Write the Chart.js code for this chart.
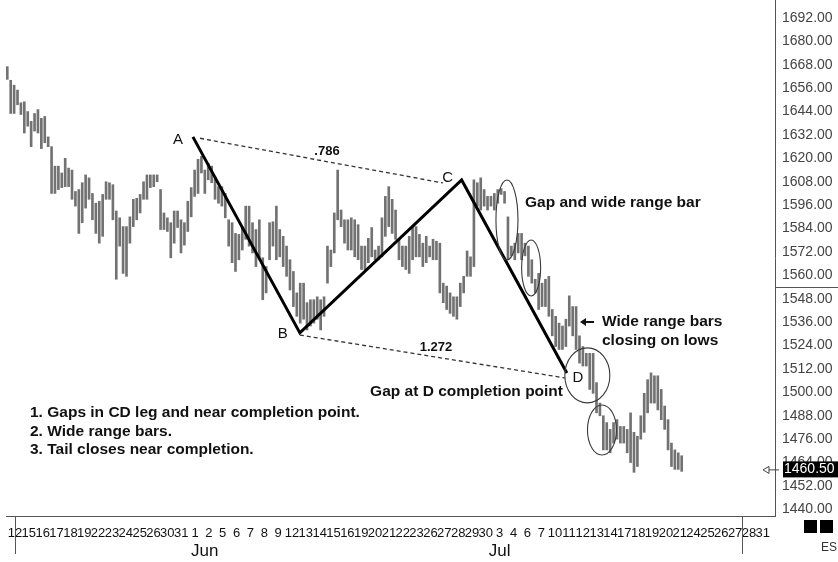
<!DOCTYPE html>
<html>
<head>
<meta charset="utf-8">
<script src="https://cdn.jsdelivr.net/npm/chart.js@4.4.0/dist/chart.umd.min.js"></script>
<style>
  html, body { margin: 0; padding: 0; background: #fff; }
  #wrap { width: 838px; height: 562px; }
</style>
</head>
<body>
<div id="wrap"><canvas id="chart" width="838" height="562"></canvas></div>
<script>
// bar highs / lows, one entry per bar
const highs = [
  1667, 1660, 1657.5, 1655, 1648.5, 1649, 1644, 1639, 1643, 1645,
  1640.5, 1641.5, 1631, 1626, 1616, 1616, 1612.5, 1620, 1615, 1614,
  1603, 1604, 1607.5, 1611.5, 1610, 1602, 1597, 1598, 1601.5, 1608,
  1607.5, 1606.5, 1593, 1589.5, 1585, 1585, 1590, 1599, 1599.5, 1601.5,
  1608, 1611.5, 1611.5, 1611.5, 1611.5, 1604, 1592, 1589.5, 1587, 1593,
  1593, 1588.5, 1587, 1598, 1605, 1614, 1619.5, 1621, 1614, 1617.5,
  1616, 1610.5, 1605.5, 1605.5, 1602, 1588.5, 1587, 1581.5, 1581, 1585,
  1595.5, 1595.5, 1587, 1583.5, 1588.5, 1569, 1564.5, 1587, 1587.5, 1595.5,
  1583.5, 1580, 1575, 1568, 1562, 1551, 1556, 1556, 1546, 1547.5,
  1547.5, 1549, 1547.5, 1549, 1575, 1573, 1592, 1614, 1593.5, 1588.5,
  1588.5, 1589.5, 1588.5, 1586, 1575, 1575, 1579, 1584.5, 1573, 1575,
  1589.5, 1600.5, 1605.5, 1599, 1593.5, 1578.5, 1575, 1575, 1580, 1585,
  1585, 1581, 1576.5, 1580, 1575, 1578.5, 1577.5, 1576.5, 1556, 1554.5,
  1551, 1549, 1549, 1556, 1559.5, 1572.5, 1569.5, 1609, 1607.5, 1610,
  1604, 1600.5, 1600.5, 1602, 1604, 1604.5, 1603, 1590, 1575, 1576.5,
  1581.5, 1581.5, 1576.5, 1575, 1568, 1558, 1561, 1556, 1558, 1559.5,
  1542.5, 1539, 1535.5, 1534, 1537.5, 1549.5, 1544, 1544, 1529, 1523.5,
  1520, 1520, 1520, 1505, 1494.5, 1488, 1484.5, 1481, 1484.5, 1486,
  1482.5, 1482.5, 1481, 1489.5, 1479.5, 1477.5, 1488, 1499.5, 1506.5, 1510,
  1508.5, 1508.5, 1501.5, 1493, 1486, 1474, 1470.5, 1469, 1467.5
];
const lows = [
  1660.5, 1643, 1643, 1647.5, 1642.5, 1633, 1636.5, 1626, 1634, 1633,
  1625, 1628, 1626, 1602, 1602, 1604, 1605, 1605.5, 1605.5, 1599,
  1595.5, 1581.5, 1587, 1594.5, 1599, 1588.5, 1581.5, 1576.5, 1580, 1599,
  1599, 1588.5, 1558, 1575, 1561, 1559.5, 1576.5, 1585, 1588.5, 1592,
  1599, 1599, 1605, 1605.5, 1608, 1583.5, 1583.5, 1582.5, 1569, 1576.5,
  1584.5, 1571.5, 1575.5, 1582.5, 1590, 1600.5, 1602, 1612.5, 1602, 1609,
  1607.5, 1599, 1597, 1595.5, 1589.5, 1575, 1566.5, 1562, 1568, 1573,
  1578.5, 1575, 1571.5, 1564.5, 1569, 1547.5, 1551, 1568, 1575, 1568,
  1569.5, 1564.5, 1559.5, 1552.5, 1544, 1539, 1535.5, 1537.5, 1532, 1534,
  1535.5, 1537.5, 1532, 1539, 1556, 1564.5, 1571.5, 1588.5, 1585, 1576.5,
  1573, 1573, 1569.5, 1568, 1563, 1563, 1566.5, 1569.5, 1568, 1568,
  1569.5, 1580, 1585, 1581.5, 1578.5, 1568, 1564.5, 1563, 1561, 1568,
  1569.5, 1569.5, 1564.5, 1566.5, 1569.5, 1568, 1568, 1551, 1546, 1542.5,
  1540.5, 1539, 1537.5, 1544, 1551, 1559.5, 1559.5, 1564.5, 1595.5, 1593.5,
  1595.5, 1593.5, 1595.5, 1593.5, 1597, 1601.5, 1597, 1568, 1570, 1568,
  1571.5, 1568, 1570, 1559.5, 1556, 1551, 1542.5, 1544, 1544, 1539,
  1529, 1523.5, 1522, 1522, 1523.5, 1534, 1529, 1522, 1515, 1513.5,
  1513.5, 1501.5, 1499.5, 1489.5, 1488, 1470.5, 1470.5, 1469, 1474, 1476,
  1474, 1474, 1469, 1464, 1459, 1462, 1476, 1479.5, 1489.5, 1494.5,
  1494.5, 1491, 1486, 1481, 1470.5, 1462, 1460.5, 1460.5, 1459.5
];

const dayLabels = [
  '12', '15', '16', '17', '18', '19', '22', '23', '24', '25', '26', '30', '31',
  '1', '2', '5', '6', '7', '8', '9', '12', '13', '14', '15', '16', '19', '20', '21', '22', '23',
  '26', '27', '28', '29', '30',
  '3', '4', '6', '7', '10', '11', '12', '13', '14', '17', '18', '19', '20', '21',
  '24', '25', '26', '27', '28', '31'
];
const monthLabels = ['Jun', 'Jul'];
const yTicks = [1440, 1452, 1464, 1476, 1488, 1500, 1512, 1524, 1536, 1548, 1560, 1572,
  1584, 1596, 1608, 1620, 1632, 1644, 1656, 1668, 1680, 1692];

// ABCD pattern pivots (bar position, price)
const pivotNames = ['A', 'B', 'C', 'D'];
const pivotX = [54.5, 85.9, 133.4, 164.3];
const pivotY = [1631, 1530.5, 1608.9, 1509.9];
// dashed ratio lines A-C and B-D
const acX = [56.6, 127.9];
const acY = [1630.3, 1607.4];
const bdX = [85.9, 163.7];
const bdY = [1529.4, 1507.4];
const lastPrice = 1460.5;

// where the day labels sit on the bar axis
const DAY0 = 2.26;
const DAY_STEP = 4.066;

Chart.defaults.font.family = '"Liberation Sans", Arial, Helvetica, sans-serif';

const notes = {
  id: 'notes',
  afterDraw(chart) {
    const ctx = chart.ctx;
    const xs = chart.scales.x, ys = chart.scales.y;
    const px = v => xs.getPixelForValue(v);
    const py = v => ys.getPixelForValue(v);
    const area = chart.chartArea;
    ctx.save();

    // ellipses around the gaps
    const rings = [
      { x: 146.7, y: 1588.4, rx: 11, ry: 40 },
      { x: 153.8, y: 1563.8, rx: 9.5, ry: 28 },
      { x: 170.3, y: 1508.7, rx: 22.5, ry: 27.5 },
      { x: 174.6, y: 1480.7, rx: 14.5, ry: 25 }
    ];
    ctx.strokeStyle = '#3a3a3a';
    ctx.lineWidth = 1.1;
    rings.forEach(r => {
      ctx.beginPath();
      ctx.ellipse(px(r.x), py(r.y), r.rx, r.ry, 0, 0, Math.PI * 2);
      ctx.stroke();
    });

    // pivot letters
    const offs = [[-15, 3], [-17, 1], [-14, -2], [11, 5]];
    ctx.fillStyle = '#111';
    ctx.font = '15px "Liberation Sans", Arial, sans-serif';
    ctx.textAlign = 'center';
    ctx.textBaseline = 'middle';
    pivotNames.forEach((n, i) => {
      ctx.fillText(n, px(pivotX[i]) + offs[i][0], py(pivotY[i]) + offs[i][1]);
    });

    // ratio labels
    ctx.font = 'bold 13px "Liberation Sans", Arial, sans-serif';
    ctx.fillText('.786', 327, 151);
    ctx.fillText('1.272', 436, 347);

    // comments
    ctx.font = 'bold 15.5px "Liberation Sans", Arial, sans-serif';
    ctx.textAlign = 'left';
    ctx.fillText('Gap and wide range bar', 525, 203);
    ctx.fillText('Wide range bars', 602, 322);
    ctx.fillText('closing on lows', 602, 341);
    ctx.fillText('1. Gaps in CD leg and near completion point.', 30, 413);
    ctx.fillText('2. Wide range bars.', 30, 432);
    ctx.fillText('3. Tail closes near completion.', 30, 450);
    ctx.textAlign = 'right';
    ctx.fillText('Gap at D completion point', 563, 392);

    // small arrow pointing at the wide range bars
    ctx.strokeStyle = '#111';
    ctx.lineWidth = 2;
    ctx.beginPath();
    ctx.moveTo(594, 322);
    ctx.lineTo(584, 322);
    ctx.stroke();
    ctx.beginPath();
    ctx.moveTo(580, 322);
    ctx.lineTo(586, 318);
    ctx.lineTo(586, 326);
    ctx.closePath();
    ctx.fill();

    // month names under the day numbers
    const monthAt = [13.7, 35];
    ctx.font = '17px "Liberation Sans", Arial, sans-serif';
    ctx.textAlign = 'center';
    monthLabels.forEach((m, i) => {
      ctx.fillText(m, px(DAY0 + monthAt[i] * DAY_STEP), 551);
    });

    // separator marks on the time axis
    ctx.strokeStyle = '#555';
    ctx.lineWidth = 1;
    [0, 52.5].forEach(d => {
      const x = Math.round(px(DAY0 + d * DAY_STEP)) + 0.5;
      ctx.beginPath();
      ctx.moveTo(x, area.bottom);
      ctx.lineTo(x, 554);
      ctx.stroke();
    });

    // split line in the price column
    const ySplit = Math.round((py(1560) + py(1548)) / 2) + 0.5;
    ctx.beginPath();
    ctx.moveTo(area.right, ySplit);
    ctx.lineTo(838, ySplit);
    ctx.stroke();

    // last price marker
    const yl = py(lastPrice);
    ctx.fillStyle = '#000';
    ctx.fillRect(783, yl - 8, 55, 16);
    ctx.fillStyle = '#fff';
    ctx.font = '14px "Liberation Sans", Arial, sans-serif';
    ctx.textAlign = 'left';
    ctx.fillText(lastPrice.toFixed(2), 784, yl);
    ctx.strokeStyle = '#444';
    ctx.beginPath();
    ctx.moveTo(769, yl + 0.5);
    ctx.lineTo(779, yl + 0.5);
    ctx.moveTo(769, yl - 3);
    ctx.lineTo(763, yl + 0.5);
    ctx.lineTo(769, yl + 4);
    ctx.closePath();
    ctx.stroke();

    // symbol box
    ctx.fillStyle = '#000';
    ctx.fillRect(804, 520, 13, 13);
    ctx.fillRect(820, 520, 13, 13);
    ctx.fillStyle = '#333';
    ctx.font = '12px "Liberation Sans", Arial, sans-serif';
    ctx.textAlign = 'center';
    ctx.fillText('ES', 829, 548);

    ctx.restore();
  }
};

new Chart(document.getElementById('chart'), {
  type: 'bar',
  data: {
    datasets: [
      {
        type: 'line',
        data: pivotX.map((x, i) => ({ x: x, y: pivotY[i] })),
        borderColor: '#000',
        borderWidth: 3,
        pointRadius: 0,
        order: 0
      },
      {
        type: 'line',
        data: acX.map((x, i) => ({ x: x, y: acY[i] })),
        borderColor: '#333',
        borderWidth: 1.3,
        borderDash: [4, 3],
        pointRadius: 0,
        order: 1
      },
      {
        type: 'line',
        data: bdX.map((x, i) => ({ x: x, y: bdY[i] })),
        borderColor: '#333',
        borderWidth: 1.3,
        borderDash: [4, 3],
        pointRadius: 0,
        order: 1
      },
      {
        type: 'bar',
        data: highs.map((h, i) => ({ x: i, y: [lows[i], h] })),
        backgroundColor: '#727272',
        barThickness: 2,
        order: 2
      }
    ]
  },
  options: {
    responsive: false,
    animation: false,
    devicePixelRatio: 1,
    layout: { padding: { left: 6, top: 0, right: 0, bottom: 0 } },
    plugins: {
      legend: { display: false },
      tooltip: { enabled: false }
    },
    scales: {
      x: {
        type: 'linear',
        offset: false,
        min: -0.38,
        max: 225.4,
        grid: { display: false, drawTicks: false },
        border: { color: '#555' },
        afterBuildTicks: s => {
          s.ticks = dayLabels.map((d, k) => ({ value: DAY0 + k * DAY_STEP }));
        },
        ticks: {
          autoSkip: false,
          maxRotation: 0,
          padding: 10,
          color: '#111',
          font: { size: 13 },
          callback: (v, i) => dayLabels[i]
        },
        afterFit: s => {
          s.height = 46;
          s.paddingLeft = 0;
          s.paddingRight = 0;
        }
      },
      y: {
        position: 'right',
        min: 1436.6,
        max: 1701.2,
        grid: { display: false, drawTicks: false },
        border: { color: '#555' },
        afterBuildTicks: s => {
          s.ticks = yTicks.map(v => ({ value: v }));
        },
        ticks: {
          padding: 7,
          color: '#444',
          font: { size: 14 },
          callback: v => v.toFixed(2)
        },
        afterFit: s => {
          s.width = 63;
          s.paddingTop = 0;
          s.paddingBottom = 0;
        }
      }
    }
  },
  plugins: [notes]
});
</script>
</body>
</html>
